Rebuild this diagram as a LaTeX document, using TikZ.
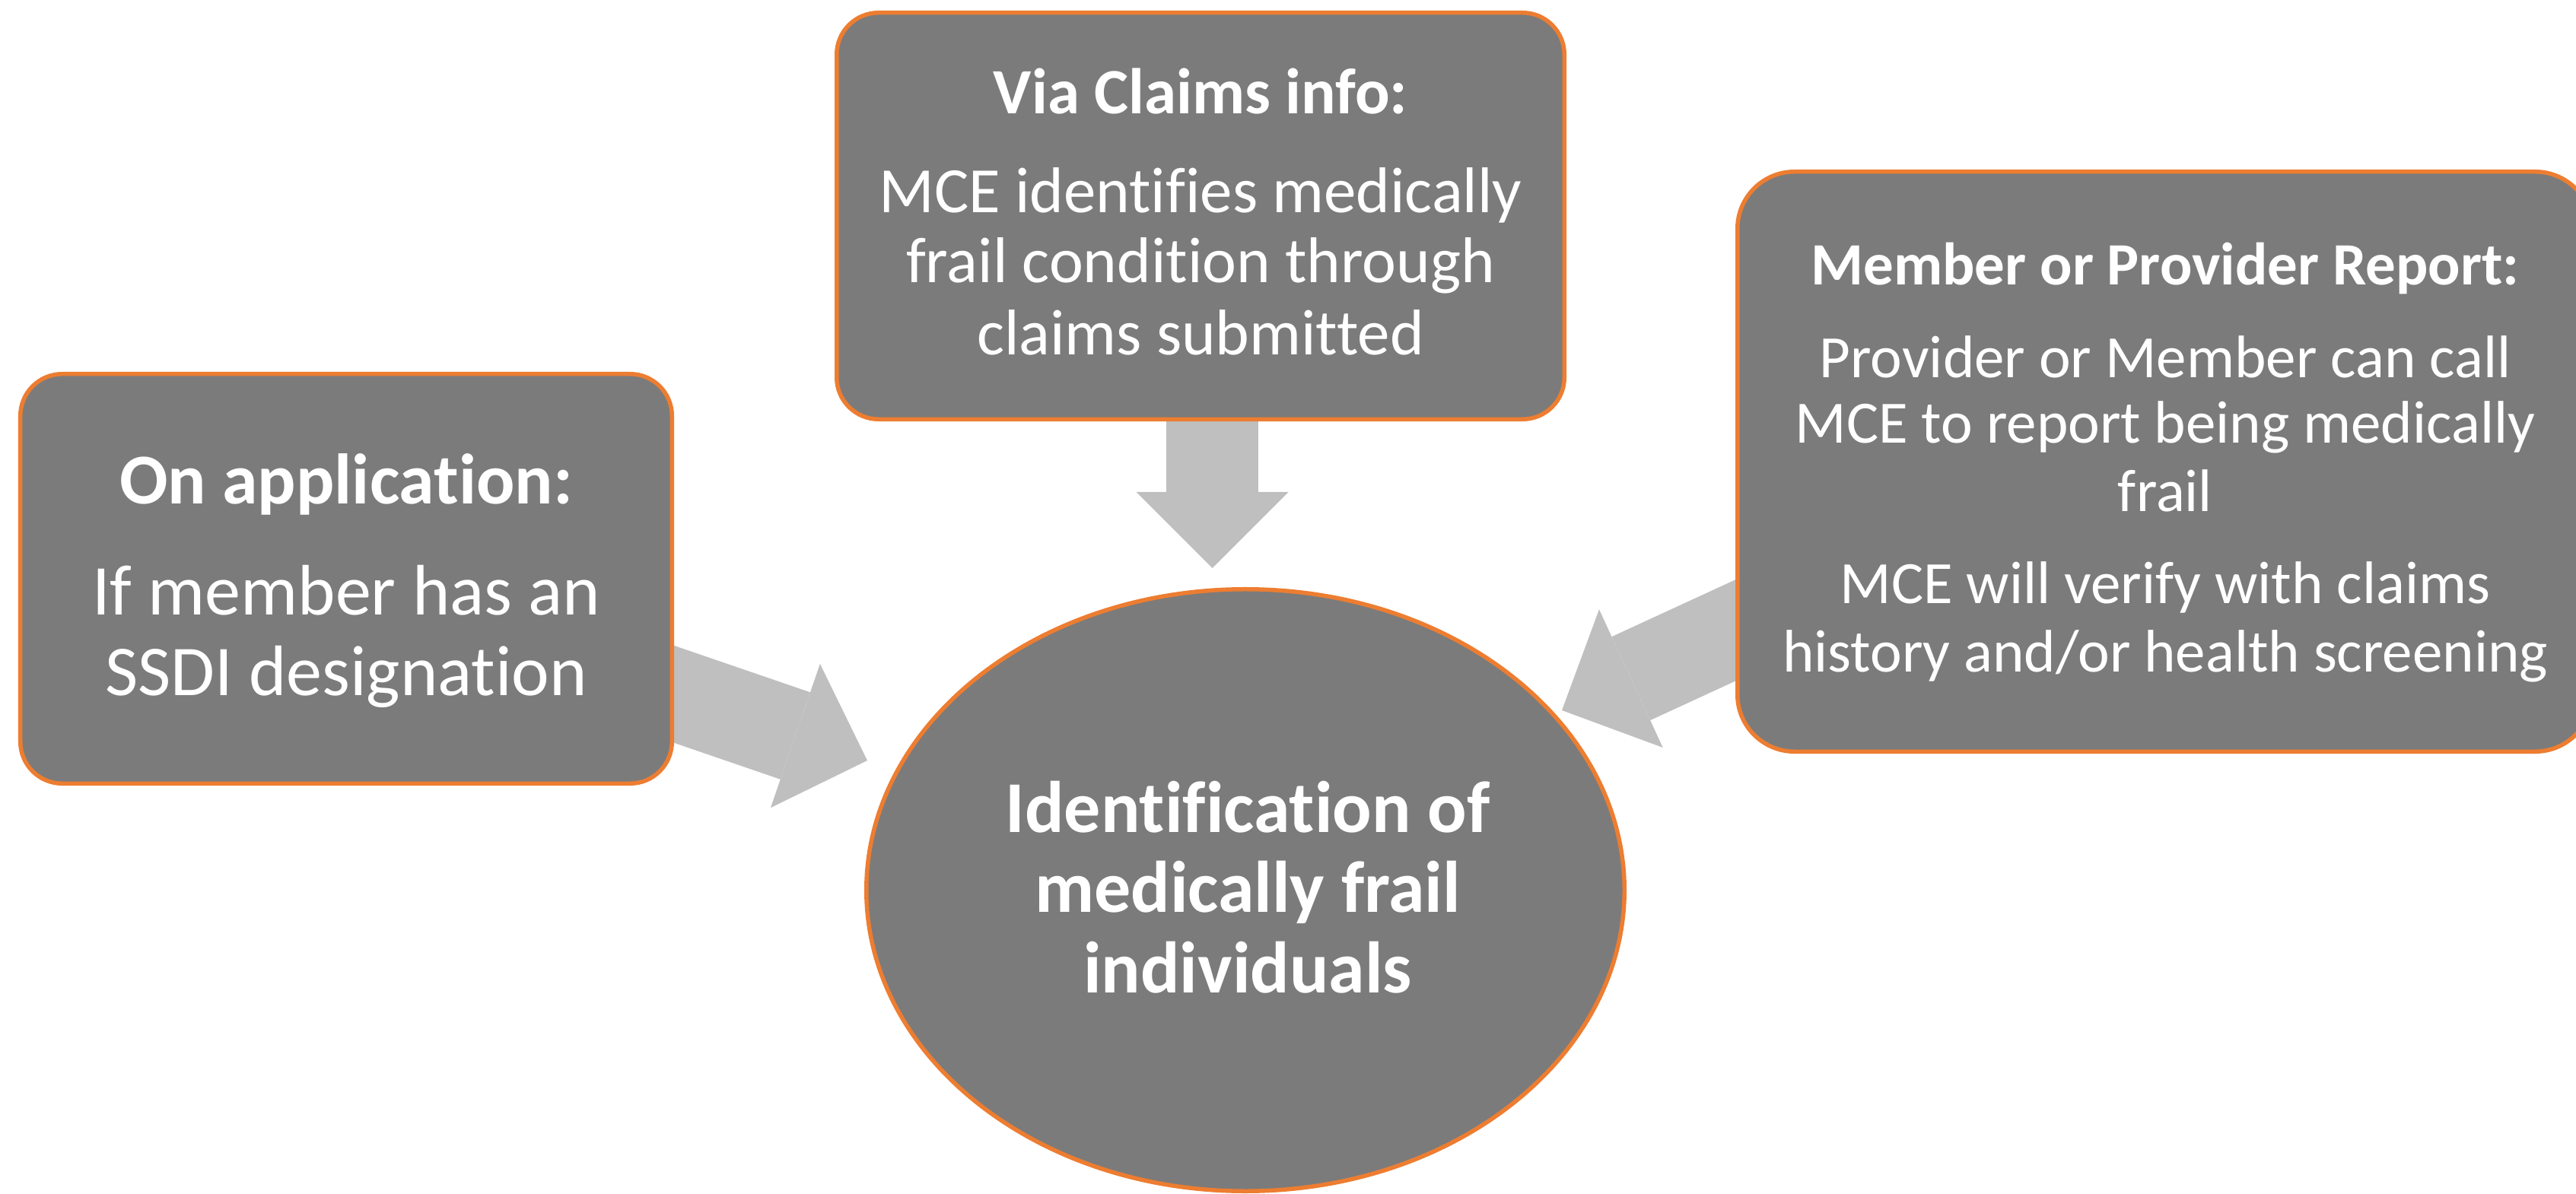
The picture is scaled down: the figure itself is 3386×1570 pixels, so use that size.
\documentclass[tikz,border=0pt]{standalone}
\usepackage{fontspec}
\setmainfont{Carlito}[Ligatures={NoCommon,NoRare}]
\usetikzlibrary{arrows.meta,shapes.geometric,backgrounds}
\definecolor{boxgray}{HTML}{7B7B7B}
\definecolor{arrowgray}{HTML}{BFBFBF}
\definecolor{edgeorange}{HTML}{ED7D31}
\begin{document}
\begin{tikzpicture}[x=0.2pt,y=-0.2pt,
  card/.style={rectangle, draw=edgeorange, fill=boxgray, line width=1.1pt, inner sep=0pt},
  txt/.style={text=white, inner sep=0pt, anchor=base},
  fL/.style={font=\fontsize{18.8pt}{22pt}\selectfont},
  fT/.style={font=\fontsize{17pt}{20pt}\selectfont},
  fR/.style={font=\fontsize{15.8pt}{19pt}\selectfont},
  fC/.style={font=\fontsize{19.2pt}{22pt}\selectfont\bfseries},
  bigarrow/.style={draw=arrowgray, line width=24.2pt, -{Triangle[width=40pt,length=20pt,line width=0pt]}}]
\useasboundingbox (0,0) rectangle (3386,1570);
\clip (0,0) rectangle (3386,1570);
% boxes
\node[card, rounded corners=11pt, minimum width=171.3pt, minimum height=107.7pt] (left) at (455,761) {};
\node[card, rounded corners=11pt, minimum width=191.3pt, minimum height=106.9pt] (top) at (1578,284) {};
\node[card, rounded corners=15pt, minimum width=224.7pt, minimum height=152.5pt] (right) at (2845.5,607) {};
\node[ellipse, draw=edgeorange, fill=boxgray, line width=1.1pt, inner sep=0pt, minimum width=199.3pt, minimum height=158.3pt] (center) at (1637,1170.5) {};
% left text
\node[txt, font=\fontsize{18.8pt}{22pt}\selectfont\bfseries] (l1) at (455,663) {On application:};
\node[txt, fL] (l2) at (455,809) {If member has an};
\node[txt, fL] (l3) at (455,914) {SSDI designation};
% top text
\node[txt, font=\fontsize{17pt}{20pt}\selectfont\bfseries] (t1) at (1578,150) {Via Claims info:};
\node[txt, fT] (t2) at (1578,280) {MCE identifies medically};
\node[txt, fT] (t3) at (1578,372) {frail condition through};
\node[txt, fT] (t4) at (1578,467) {claims submitted};
% right text
\node[txt, font=\fontsize{15.8pt}{19pt}\selectfont\bfseries] (r1) at (2846,375) {Member or Provider Report:};
\node[txt, fR] (r2) at (2846,497) {Provider or Member can call};
\node[txt, fR] (r3) at (2846,583) {MCE to report being medically};
\node[txt, fR] (r4) at (2846,672) {frail};
\node[txt, fR] (r5) at (2846,794) {MCE will verify with claims};
\node[txt, fR] (r6) at (2846,883) {history and/or health screening};
% center text
\node[txt, fC] (c1) at (1640,1094) {Identification of};
\node[txt, fC] (c2) at (1640,1199) {medically frail};
\node[txt, fC] (c3) at (1640,1305) {individuals};
% arrow ends
\coordinate (sT) at (1593.5,450);
\coordinate (tipT) at (1593.5,747);
\coordinate (sL) at (700,849);
\coordinate (tipL) at (1140,1000);
\coordinate (sR) at (2500,728);
\coordinate (tipR) at (2053,934);
\begin{scope}[on background layer]
\draw[bigarrow] (sT) -- (tipT);
\draw[bigarrow] (sL) -- (tipL);
\draw[bigarrow] (sR) -- (tipR);
\end{scope}
\end{tikzpicture}
\end{document}
